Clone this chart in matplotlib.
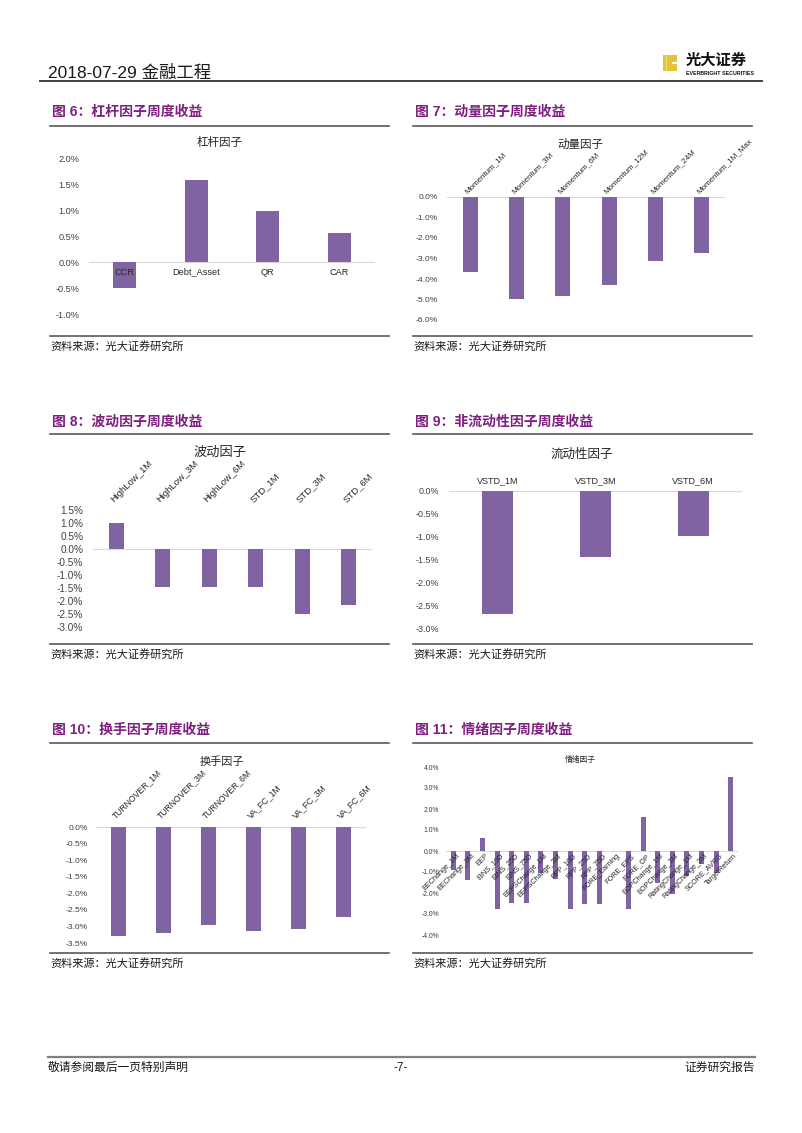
import numpy as np
import matplotlib
matplotlib.use('Agg')
import matplotlib.pyplot as plt
from matplotlib.patches import Rectangle
from matplotlib.lines import Line2D
from matplotlib.transforms import offset_copy

W, H = 802, 1133
plt.rcParams['font.family'] = ['Liberation Sans', 'Noto Sans CJK SC', 'DejaVu Sans']

# ---------------- data ----------------
lev_cats = ['CCR', 'Debt_Asset', 'QR', 'CAR']
lev_vals = [-0.50, 1.58, 0.99, 0.55]

mom_cats = ['Momentum_1M', 'Momentum_3M', 'Momentum_6M', 'Momentum_12M',
            'Momentum_24M', 'Momentum_1M_Max']
mom_vals = [-3.64, -4.97, -4.82, -4.28, -3.11, -2.75]

vol_cats = ['HighLow_1M', 'HighLow_3M', 'HighLow_6M', 'STD_1M', 'STD_3M', 'STD_6M']
vol_vals = [1.00, -1.45, -1.45, -1.47, -2.50, -2.17]

liq_cats = ['VSTD_1M', 'VSTD_3M', 'VSTD_6M']
liq_vals = [-2.69, -1.44, -0.98]

tov_cats = ['TURNOVER_1M', 'TURNOVER_3M', 'TURNOVER_6M', 'VA_FC_1M', 'VA_FC_3M', 'VA_FC_6M']
tov_vals = [-3.30, -3.20, -2.96, -3.15, -3.08, -2.71]

sen_cats = ['EEChange_1M', 'EEChange_3M', 'EEP', 'EINS_10D', 'EINS_25D', 'EINS_75D',
            'EEPSChange_1M', 'EEPSChange_3M', 'RPP_10D', 'RPP_25D', 'RPP_75D',
            'FORE_Earning', 'FORE_EPS', 'FORE_OP', 'EOPChange_1M', 'EOPChange_3M',
            'RatingChange_1M', 'RatingChange_3M', 'SCORE_AVRG', 'TargetReturn']
sen_vals = [-0.90, -1.38, 0.60, -2.78, -2.48, -2.48,
            -1.03, -1.32, -2.78, -2.50, -2.50,
            0.00, -2.75, 1.62, -1.50, -2.06,
            -1.20, -0.63, -1.03, 3.52]

BAR = '#8064A2'
PURPLE = '#7E1F80'
TICKC = '#404040'

fig = plt.figure(figsize=(W / 100, H / 100), dpi=100)
fig.patch.set_facecolor('white')


def fx(x):
    return x / W


def fy(y):
    return 1 - y / H


def ftext(x, y, s, **kw):
    fig.text(fx(x), fy(y), s, **kw)


def hline(x0, x1, y, color, lw):
    fig.add_artist(Line2D([fx(x0), fx(x1)], [fy(y), fy(y)], color=color, lw=lw,
                          transform=fig.transFigure))


def bar_chart(x0, ytop, x1, ybot, cats, vals, ylim, step, title, title_xy, title_fs,
              tick_fs, tick_pad, mode, cat_fs, cat_pad, width=0.32):
    ax = fig.add_axes([fx(x0), fy(ybot), (x1 - x0) / W, (ybot - ytop) / H])
    xs = np.arange(len(cats))
    ax.bar(xs, vals, width=width, color=BAR, zorder=3)
    ax.set_xlim(-0.5, len(cats) - 0.5)
    ax.set_ylim(*ylim)
    ticks = np.arange(ylim[0], ylim[1] + step / 2, step)
    labs = []
    for t in ticks:
        t = round(t, 4)
        if abs(t) < 1e-9:
            t = 0.0
        labs.append(f'{t:.1f}%')
    ax.set_yticks(ticks)
    ax.set_yticklabels(labs)
    ax.axhline(0, color='#D9D9D9', lw=0.8, zorder=2)
    for s in ax.spines.values():
        s.set_visible(False)
    ax.set_xticks([])
    ax.tick_params(axis='y', length=0, labelsize=tick_fs, labelcolor=TICKC, pad=tick_pad)
    ax.patch.set_alpha(0)
    if mode == 'below':
        tr = offset_copy(ax.transData, fig=fig, x=0, y=-cat_pad, units='points')
        for i, c in enumerate(cats):
            ax.text(i, 0, c, ha='center', va='top', fontsize=cat_fs, color='#262626',
                    transform=tr, zorder=5)
    elif mode == 'top':
        tr = offset_copy(ax.transData, fig=fig, x=0, y=cat_pad, units='points')
        for i, c in enumerate(cats):
            ax.text(i, ylim[1], c, ha='center', va='bottom', fontsize=cat_fs,
                    color='#262626', transform=tr)
    elif mode == 'top45':
        tr = offset_copy(ax.transData, fig=fig, x=-1, y=cat_pad, units='points')
        for i, c in enumerate(cats):
            ax.text(i, ylim[1], c, ha='left', va='bottom', fontsize=cat_fs,
                    color='#262626', rotation=45, rotation_mode='anchor', transform=tr)
    elif mode == 'below45':
        tr = offset_copy(ax.transData, fig=fig, x=2, y=-cat_pad, units='points')
        for i, c in enumerate(cats):
            ax.text(i, 0, c, ha='right', va='top', fontsize=cat_fs, color='#262626',
                    rotation=45, rotation_mode='anchor', transform=tr, zorder=5)
    ftext(title_xy[0], title_xy[1], title, ha='center', va='center', fontsize=title_fs,
          color='#262626')
    return ax


# ---------------- header ----------------
ftext(48, 73, '2018-07-29 金融工程', fontsize=12.5, ha='left', va='center', color='#1a1a1a')
hline(40, 762, 81, '#404040', 1.4)
fig.add_artist(Rectangle((fx(663), fy(71)), 14 / W, 16 / H, transform=fig.transFigure,
                         facecolor='#E5C33A', edgecolor='none'))
fig.add_artist(Rectangle((fx(672), fy(63.8)), 5 / W, 1.6 / H, transform=fig.transFigure,
                         facecolor='white', edgecolor='none'))
fig.add_artist(Rectangle((fx(666), fy(71)), 1.2 / W, 16 / H, transform=fig.transFigure,
                         facecolor='#F2DC80', edgecolor='none'))
ftext(686, 61, '光大证券', fontsize=11, fontweight='bold', ha='left', va='center',
      color='#111111')
ftext(686, 73.5, 'EVERBRIGHT SECURITIES', fontsize=3.8, fontweight='bold', ha='left',
      va='center', color='#111111')

# ---------------- section frames ----------------
cols = [(50, 389), (413, 752)]
rows = [(112, 126, 336, 346), (422, 434, 644, 654), (730, 743, 953, 963)]
titles = [['图 6：杠杆因子周度收益', '图 7：动量因子周度收益'],
          ['图 8：波动因子周度收益', '图 9：非流动性因子周度收益'],
          ['图 10：换手因子周度收益', '图 11：情绪因子周度收益']]
for r, (ty, ly, sy, sty) in enumerate(rows):
    for c, (cx0, cx1) in enumerate(cols):
        ftext(cx0 + 2, ty, titles[r][c], fontsize=10, fontweight='bold', color=PURPLE,
              ha='left', va='center')
        hline(cx0, cx1, ly, '#595959', 1.2)
        hline(cx0, cx1, sy, '#595959', 1.2)
        ftext(cx0, sty, '资料来源：光大证券研究所', fontsize=8, color='#1a1a1a',
              ha='left', va='center')

# ---------------- charts ----------------
bar_chart(89, 158, 375, 314, lev_cats, lev_vals, (-1.0, 2.0), 0.5, '杠杆因子', (220, 143),
          8.3, 6.6, 7, 'below', 6.6, 4)
bar_chart(447, 197, 725, 320, mom_cats, mom_vals, (-6.0, 0.0), 1.0, '动量因子', (580, 145),
          8.3, 6.1, 6.5, 'top45', 5.8, 1.5)
bar_chart(93, 510, 372, 627, vol_cats, vol_vals, (-3.0, 1.5), 0.5, '波动因子', (220, 453),
          9.5, 7.2, 7, 'top45', 6.8, 4)
bar_chart(449, 491, 742, 628, liq_cats, liq_vals, (-3.0, 0.0), 0.5, '流动性因子', (582, 455),
          9, 6.4, 7, 'top', 6.5, 4)
bar_chart(96, 827, 366, 943, tov_cats, tov_vals, (-3.5, 0.0), 0.5, '换手因子', (222, 762),
          8, 6.1, 6, 'top45', 6.2, 5)
bar_chart(446, 767, 738, 935, sen_cats, sen_vals, (-4.0, 4.0), 1.0, '情绪因子', (580, 760),
          5.6, 4.9, 5, 'below45', 5.2, 1, width=0.34)

# ---------------- footer ----------------
hline(48, 755, 1057, '#7F7F7F', 1.6)
ftext(48, 1068, '敬请参阅最后一页特别声明', fontsize=8.5, ha='left', va='center', color='#1a1a1a')
ftext(401, 1068, '-7-', fontsize=8.5, ha='center', va='center', color='#1a1a1a')
ftext(755, 1068, '证券研究报告', fontsize=8.5, ha='right', va='center', color='#1a1a1a')

fig.savefig('out.png', dpi=100, facecolor='white')
